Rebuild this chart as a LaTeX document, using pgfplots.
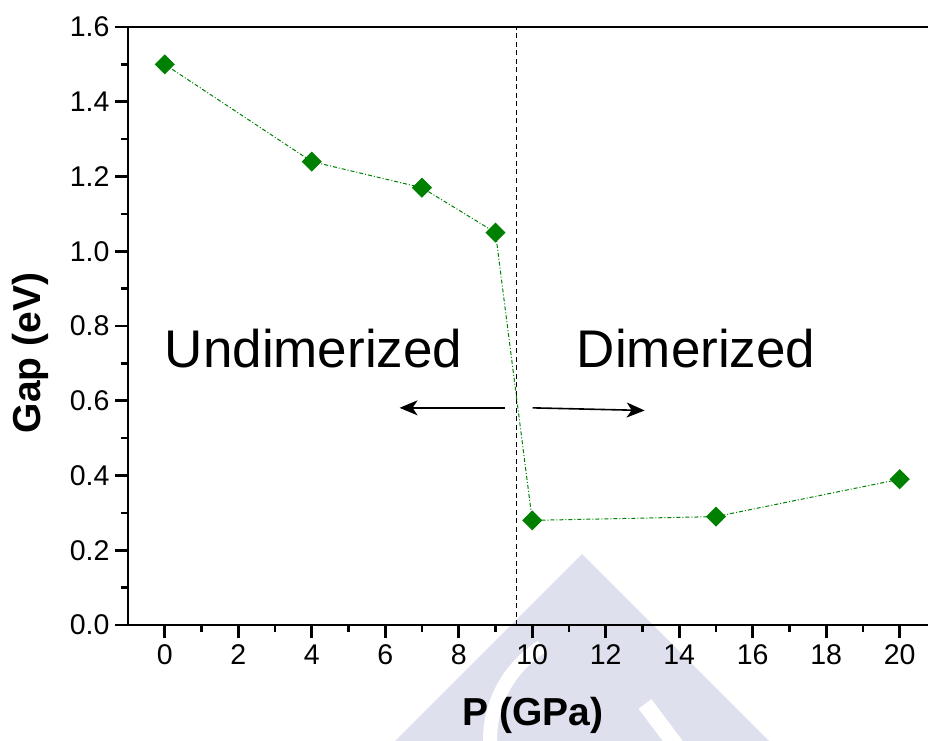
\documentclass[border=0pt]{standalone}
\usepackage{fontspec}
\setmainfont{Liberation Sans}
\usepackage{pgfplots}
\pgfplotsset{compat=1.18}
\usetikzlibrary{arrows.meta}

\definecolor{gapgreen}{RGB}{0,128,0}
\definecolor{wmark}{RGB}{222,224,237}

\begin{document}
\begin{tikzpicture}[x=1pt,y=1pt]
\path[use as bounding box] (0,0) rectangle (928,740);

% pale logo in the background
\fill[wmark] (582,186) -- (394,-2) -- (770,-2) -- cycle;
\draw[white,line width=14pt] (600,0) ++(122:110) arc[start angle=122,end angle=185,radius=110];
\draw[white,line width=16pt] (645,36) -- (678,-8);

\begin{axis}[
  at={(128pt,115pt)}, anchor=south west,
  scale only axis, width=800pt, height=598pt,
  xmin=-1, xmax=20.77, ymin=0, ymax=1.6,
  axis x line*=box, axis y line*=left,
  axis line style={line width=2.8pt},
  xtick={0,2,...,20}, ytick={0,0.2,...,1.6},
  minor x tick num=1, minor y tick num=1,
  xtick pos=left, ytick pos=left,
  tick align=outside,
  major tick length=13pt, minor tick length=7pt,
  every tick/.style={black,line width=2.6pt},
  tick label style={font=\fontsize{28.5}{32}\selectfont},
  xticklabel style={yshift=-3pt},
  yticklabel style={xshift=-2pt,
    /pgf/number format/.cd,fixed,fixed zerofill,precision=1},
  /pgf/number format/assume math mode=true,
  xlabel={P (GPa)}, ylabel={Gap (eV)},
  label style={font=\fontsize{39}{44}\selectfont\bfseries},
  xlabel style={at={(rel axis cs:0.506,-0.152)},anchor=center},
  ylabel style={at={(rel axis cs:-0.1225,0.455)},anchor=center},
  clip=false,
]
% phase boundary
\addplot[black,line width=1.2pt,dash pattern=on 5pt off 3.5pt] coordinates {(9.58,0) (9.58,1.6)};

% band gap versus pressure
\addplot[gapgreen,line width=1pt,dash pattern=on 4pt off 2pt on 1pt off 2pt,
  mark=square*,mark size=6.6pt,
  mark options={solid,fill=gapgreen,draw=gapgreen,rotate=45}]
  coordinates {
  (0,1.50) (4,1.24) (7,1.17) (9,1.05) (10,0.28) (15,0.29) (20,0.39)
};

\node[anchor=base,font=\fontsize{53}{60}\selectfont] at (axis cs:4.05,0.688) {Undimerized};
\node[anchor=base,font=\fontsize{53}{60}\selectfont] at (axis cs:14.46,0.688) {Dimerized};
\draw[-{Stealth[length=18pt,width=15pt,inset=5pt]},line width=1.6pt] (axis cs:9.25,0.581) -- (axis cs:6.39,0.581);
\draw[-{Stealth[length=18pt,width=15pt,inset=5pt]},line width=1.6pt] (axis cs:10.01,0.581) -- (axis cs:13.06,0.574);
\end{axis}
\end{tikzpicture}
\end{document}
